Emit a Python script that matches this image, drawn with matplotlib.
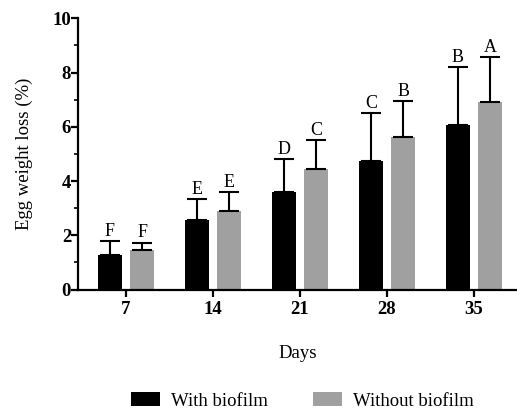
import numpy as np
import matplotlib.pyplot as plt
from matplotlib.ticker import MultipleLocator
from matplotlib.patches import Patch

days = ['7', '14', '21', '28', '35']
with_biofilm = [1.27, 2.56, 3.58, 4.75, 6.05]
with_err = [0.52, 0.78, 1.22, 1.76, 2.16]
without_biofilm = [1.47, 2.89, 4.46, 5.62, 6.93]
without_err = [0.26, 0.69, 1.04, 1.33, 1.63]
letters_with = ['F', 'E', 'D', 'C', 'B']
letters_without = ['F', 'E', 'C', 'B', 'A']

plt.rcParams['font.family'] = ['Liberation Serif', 'DejaVu Serif']

fig = plt.figure(figsize=(5.17, 4.11), dpi=100)
ax = fig.add_axes([0.151, 0.2956, 0.849, 0.66])

x = np.arange(len(days))
w = 0.28
off = 0.185
ax.bar(x - off, with_biofilm, w, color='black',
       yerr=[np.zeros(len(x)), with_err], capsize=7,
       error_kw=dict(ecolor='black', elinewidth=1.5, capthick=1.5))
ax.bar(x + off, without_biofilm, w, color='#a0a0a0',
       yerr=[np.zeros(len(x)), without_err], capsize=7,
       error_kw=dict(ecolor='black', elinewidth=1.5, capthick=1.5))

for i in range(len(x)):
    ax.text(x[i] - off, with_biofilm[i] + with_err[i] + 0.04, letters_with[i],
            ha='center', va='bottom', fontsize=13)
    ax.text(x[i] + off, without_biofilm[i] + without_err[i] + 0.04, letters_without[i],
            ha='center', va='bottom', fontsize=13)

ax.set_xlim(-0.552, 4.494)
ax.set_ylim(0, 10)
ax.set_xticks(x)
ax.set_xticklabels(days, fontweight='bold', fontsize=13.5)
ax.yaxis.set_major_locator(MultipleLocator(2))
ax.yaxis.set_minor_locator(MultipleLocator(1))
for lab in ax.get_yticklabels():
    lab.set_fontweight('bold')
    lab.set_fontsize(13.5)

ax.spines['top'].set_visible(False)
ax.spines['right'].set_visible(False)
ax.spines['left'].set_linewidth(1.6)
ax.spines['bottom'].set_linewidth(1.6)
ax.tick_params(axis='x', which='major', length=5, width=1.6, pad=3)
ax.tick_params(axis='y', which='major', length=5, width=1.6, pad=0)
ax.tick_params(axis='y', which='minor', length=3, width=1.2)

ax.set_xlabel('Days', fontsize=13.5, labelpad=20)
ax.set_ylabel('Egg weight loss (%)', fontsize=13.5, labelpad=14)

handles = [Patch(facecolor='black', label='With biofilm'),
           Patch(facecolor='#a0a0a0', label='Without biofilm')]
fig.legend(handles=handles, loc='center', bbox_to_anchor=(0.585, 0.024),
           ncol=2, frameon=False, fontsize=13.5, handlelength=1.55,
           handleheight=0.75, columnspacing=2.4, handletextpad=0.6)

fig.savefig('out.png', dpi=100)
